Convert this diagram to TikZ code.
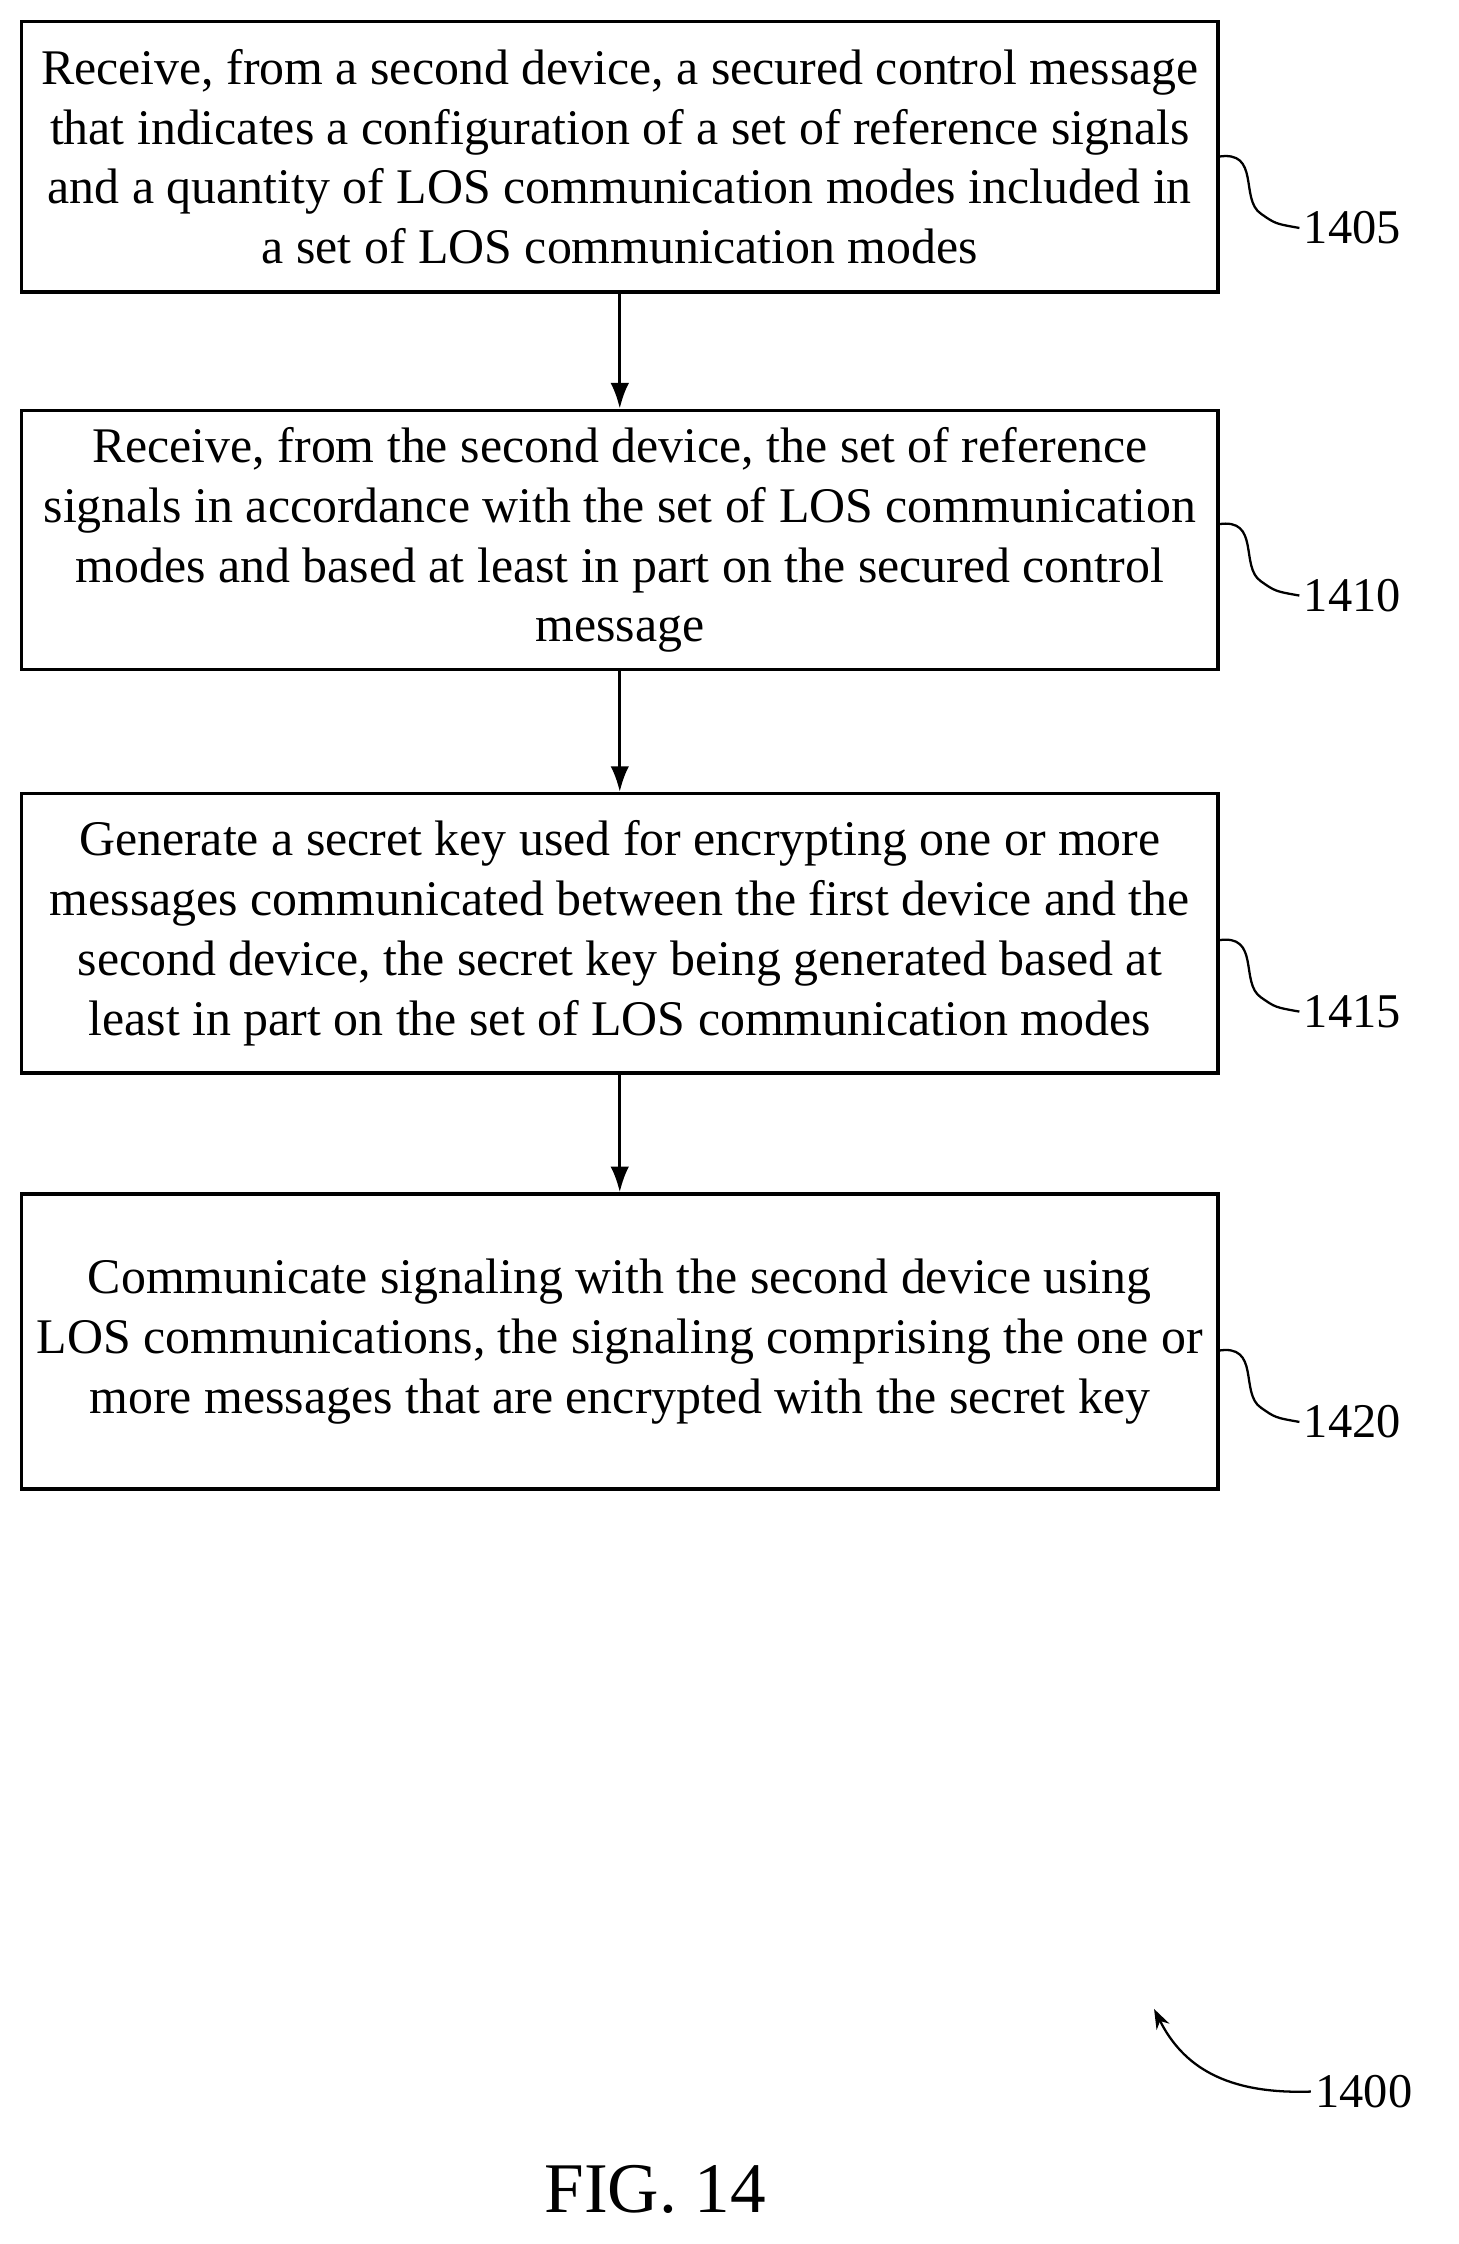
\documentclass[tikz,border=0pt]{standalone}
\usepackage{fontspec}
\setmainfont{Liberation Serif}
\begin{document}
\begin{tikzpicture}[x=1pt,y=-1pt,
  stepbox/.style={draw,line width=2.4pt,minimum width=840pt,align=center,inner sep=0pt,font=\fontsize{35}{42}\selectfont},
  arr/.style={-{Latex[length=18pt,width=13pt]},line width=2pt},
  lbl/.style={font=\fontsize{34}{38}\selectfont,anchor=west,inner sep=3pt},
  sq/.style={line width=1.6pt}]
\usetikzlibrary{arrows.meta}
\useasboundingbox (0,0) rectangle (1024,1575);
\node[stepbox,minimum height=190pt] (b1) at (435,110) {Receive, from a second device, a secured control message\\that indicates a configuration of a set of reference signals\\and a quantity of LOS communication modes included in\\a set of LOS communication modes};
\node[stepbox,minimum height=182pt] (b2) at (435,379) {Receive, from the second device, the set of reference\\signals in accordance with the set of LOS communication\\modes and based at least in part on the secured control\\message};
\node[stepbox,minimum height=196pt] (b3) at (435,655) {Generate a secret key used for encrypting one or more\\messages communicated between the first device and the\\second device, the secret key being generated based at\\least in part on the set of LOS communication modes};
\node[stepbox,minimum height=207pt] (b4) at (435,941.5) {Communicate signaling with the second device using\\LOS communications, the signaling comprising the one or\\more messages that are encrypted with the secret key};
\draw[arr] (b1.south) -- (b2.north);
\draw[arr] (b2.south) -- (b3.north);
\draw[arr] (b3.south) -- (b4.north);
\foreach \b/\n/\y in {b1/1405/110,b2/1410/368,b3/1415/660,b4/1420/948}{
  \coordinate (s\n) at (855,\y);
  \node[lbl] (l\n) at (912,\y+50) {\n};
  \draw[sq] (s\n) .. controls (885,\y-5) and (870,\y+30) .. (885,\y+40) .. controls (895,\y+47) .. (l\n.west);
}
\node[lbl] (l1400) at (920,1468) {1400};
\coordinate (a1400) at (810,1410);
\draw[line width=1.6pt,-{Stealth[length=14pt,width=10pt]}] (l1400.west) .. controls (860,1470) and (830,1450) .. (a1400);
\node[font=\fontsize{50}{56}\selectfont] (fig) at (460,1537) {FIG. 14};
\end{tikzpicture}
\end{document}
